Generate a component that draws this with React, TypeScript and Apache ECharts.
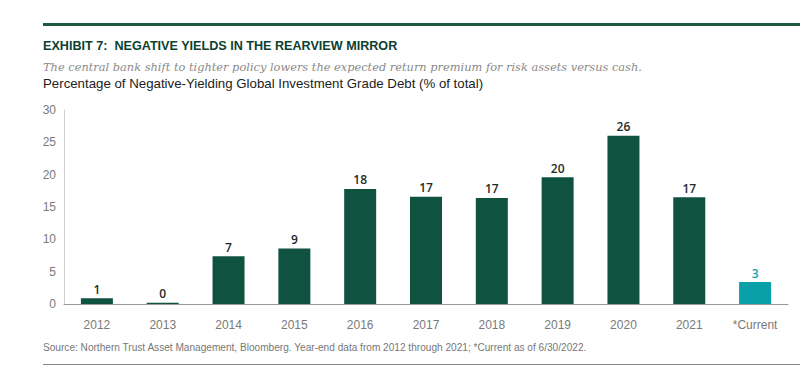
import React, { useEffect, useRef } from "react";
import * as echarts from "echarts";

const categories = ["2012", "2013", "2014", "2015", "2016", "2017", "2018", "2019", "2020", "2021", "*Current"];
const values = [0.9, 0.2, 7.4, 8.6, 17.8, 16.6, 16.4, 19.6, 26.0, 16.5, 3.4];
const labels = ["1", "0", "7", "9", "18", "17", "17", "20", "26", "17", "3"];
const yTicks = [0, 5, 10, 15, 20, 25, 30];

const GREEN = "#0f5240";
const TEAL = "#0aa0aa";
const SANS = "'Liberation Sans', Arial, sans-serif";
const SERIF = "'DejaVu Serif', serif";

export default function App() {
  const ref = useRef<HTMLDivElement>(null);
  useEffect(() => {
    const chart = echarts.init(ref.current!, null, { renderer: "svg" });
    const last = categories.length - 1;
    chart.setOption({
      animation: false,
      grid: { left: 64, right: 15, top: 110, bottom: 64 },
      xAxis: {
        type: "category",
        data: categories,
        axisLine: { lineStyle: { color: "#9a9a9a", width: 1 } },
        axisTick: { show: false },
        axisLabel: { color: "#7a7a7a", fontFamily: SANS, fontSize: 12, margin: 15 },
      },
      yAxis: {
        type: "value",
        min: yTicks[0],
        max: yTicks[yTicks.length - 1],
        interval: 5,
        axisLine: { show: true, lineStyle: { color: "#cfcfcf", width: 1 } },
        axisTick: { show: false },
        splitLine: { show: false },
        axisLabel: { color: "#7a7a7a", fontFamily: SANS, fontSize: 12, margin: 8 },
      },
      series: [
        {
          type: "bar",
          barWidth: 32,
          data: values.map((v, i) => ({
            value: v,
            itemStyle: { color: i === last ? TEAL : GREEN },
            label: {
              show: true,
              position: "top",
              distance: 3,
              formatter: labels[i],
              color: i === last ? TEAL : "#1e2b28",
              fontWeight: 600,
              fontSize: 12,
              fontFamily: "'Open Sans', sans-serif",
            },
          })),
        },
      ],
      graphic: [
        { type: "rect", shape: { x: 43, y: 23, width: 757, height: 3 }, style: { fill: "#1b5a3f" } },
        {
          type: "text",
          x: 43,
          y: 45,
          scaleX: 0.97,
          style: {
            text: "EXHIBIT 7:  NEGATIVE YIELDS IN THE REARVIEW MIRROR",
            fill: "#0d4030",
            font: `600 13px ${SANS}`,
            textVerticalAlign: "middle",
          },
        },
        {
          type: "text",
          x: 43,
          y: 67,
          scaleX: 0.99,
          style: {
            text: "The central bank shift to tighter policy lowers the expected return premium for risk assets versus cash.",
            fill: "#8a8a8a",
            font: `italic 11.5px ${SERIF}`,
            textVerticalAlign: "middle",
          },
        },
        {
          type: "text",
          x: 43,
          y: 84,
          scaleX: 1.02,
          style: {
            text: "Percentage of Negative-Yielding Global Investment Grade Debt (% of total)",
            fill: "#222",
            font: `13px ${SANS}`,
            textVerticalAlign: "middle",
          },
        },
        {
          type: "text",
          x: 43,
          y: 348,
          scaleX: 1.01,
          style: {
            text: "Source: Northern Trust Asset Management, Bloomberg. Year-end data from 2012 through 2021; *Current as of 6/30/2022.",
            fill: "#777",
            font: `10px ${SANS}`,
            textVerticalAlign: "middle",
          },
        },
        { type: "rect", shape: { x: 43, y: 364, width: 757, height: 1 }, style: { fill: "#888" } },
      ],
    });
    return () => chart.dispose();
  }, []);
  return <div ref={ref} style={{ width: 803, height: 368, position: "absolute", left: 0, top: 0, background: "#fff" }} />;
}
